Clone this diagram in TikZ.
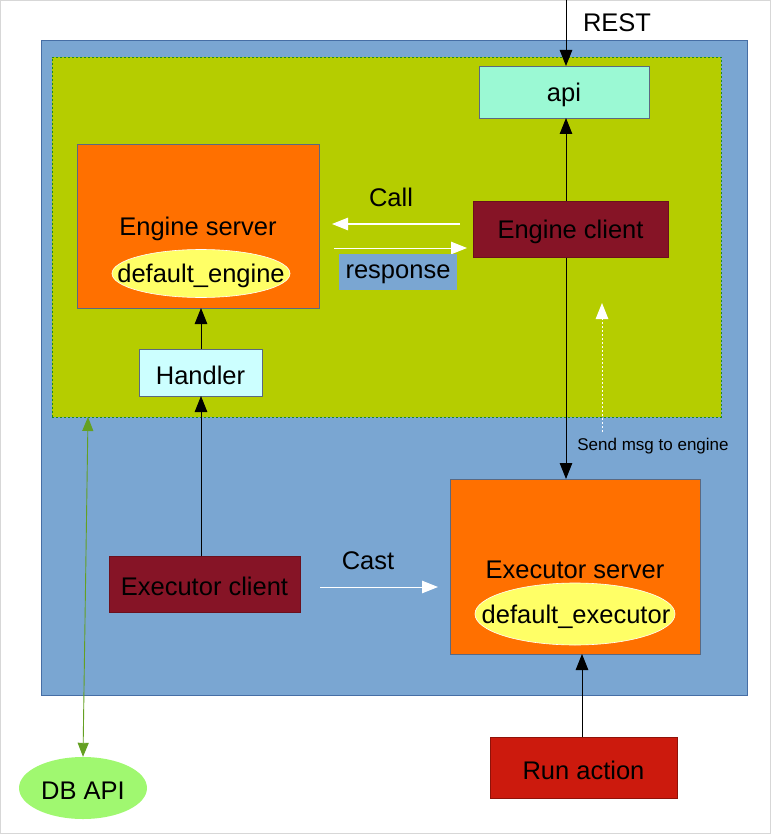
\documentclass[tikz,border=0pt]{standalone}
\usepackage{fontspec}
\setmainfont{Liberation Sans}
\usetikzlibrary{arrows.meta,shapes.geometric}
\definecolor{outerblue}{RGB}{122,166,210}
\definecolor{outerborder}{RGB}{70,110,165}
\definecolor{limegreen}{RGB}{181,205,0}
\definecolor{dashgreen}{RGB}{30,140,30}
\definecolor{mint}{RGB}{155,249,212}
\definecolor{orangebox}{RGB}{255,112,0}
\definecolor{darkred}{RGB}{134,20,38}
\definecolor{handlercyan}{RGB}{204,255,255}
\definecolor{yellowell}{RGB}{255,255,102}
\definecolor{runred}{RGB}{204,26,13}
\definecolor{dbgreen}{RGB}{160,248,112}
\definecolor{dbline}{RGB}{100,160,34}
\definecolor{boxborder}{RGB}{90,105,130}
\definecolor{frame}{RGB}{215,215,215}
\tikzset{
  txt/.style={font=\fontsize{25.5}{28}\selectfont, text=black, yshift=-2.5pt},
  smalltxt/.style={font=\fontsize{17}{19}\selectfont, text=black, yshift=-2pt},
  boxnode/.style={draw=boxborder, line width=0.8pt, inner sep=0pt},
  ell/.style={ellipse, fill=yellowell, draw=white, line width=0.6pt, inner sep=0pt},
  blackarrow/.style={draw=black, line width=0.9pt, -{Triangle[length=16pt,width=12.5pt]}},
  whitearrow/.style={draw=white, line width=1pt, -{Triangle[length=16pt,width=12.5pt]}},
}
\begin{document}
\begin{tikzpicture}[x=1pt,y=-1pt]
\useasboundingbox (0,0) rectangle (771,834);
\draw[frame, line width=1pt] (0.5,0.5) rectangle (770.5,833.5);
% containers
\node[fill=outerblue, draw=outerborder, line width=0.8pt, minimum width=706pt, minimum height=655pt, inner sep=0pt] (outer) at (394,367.5) {};
\node[fill=limegreen, draw=dashgreen, dashed, dash pattern=on 2pt off 2pt, line width=0.8pt, minimum width=669pt, minimum height=360pt, inner sep=0pt] (inner) at (386.5,237) {};
% nodes
\node[boxnode, fill=mint, minimum width=170pt, minimum height=52pt] (api) at (564,92) {};
\node[txt] (apilbl) at (api) {api};
\node[boxnode, fill=orangebox, minimum width=242pt, minimum height=164pt] (engsrv) at (198,226) {};
\node[txt] (engsrvlbl) at (198,226) {Engine server};
\node[ell, minimum width=178pt, minimum height=48pt] (defeng) at (201,273.5) {};
\node[txt] (defenglbl) at (201,273.5) {default\_engine};
\node[boxnode, fill=handlercyan, minimum width=123pt, minimum height=47pt] (handler) at (200.5,372.5) {};
\node[txt] (handlerlbl) at (handler) {Handler};
\node[boxnode, fill=orangebox, minimum width=250pt, minimum height=175pt] (execsrv) at (575,566.5) {};
\node[txt] (execsrvlbl) at (575,567) {Executor server};
\node[ell, minimum width=200pt, minimum height=62pt] (defexec) at (575,614) {};
\node[txt] (defexeclbl) at (576,614) {default\_executor};
\node[boxnode, fill=darkred, draw=darkred!80!black, minimum width=191pt, minimum height=56pt] (execcl) at (204.5,584) {};
\node[txt] (execcllbl) at (execcl) {Executor client};
\node[boxnode, fill=runred, draw=runred!70!black, minimum width=187pt, minimum height=61pt] (runact) at (583.5,767.5) {};
\node[txt] (runactlbl) at (runact) {Run action};
\node[ellipse, fill=dbgreen, inner sep=0pt, minimum width=128pt, minimum height=62pt] (dbapi) at (83,788) {};
\node[txt] (dbapilbl) at (83,788) {DB API};
% api <-> executor server (behind engine client)
\coordinate (apib) at (566,118);
\coordinate (exect) at (566,479);
\draw[draw=black, line width=0.9pt, {Triangle[length=16pt,width=12.5pt]}-{Triangle[length=16pt,width=12.5pt]}] (apib) -- (exect);
\node[boxnode, fill=darkred, draw=darkred!80!black, minimum width=195pt, minimum height=56pt] (engcl) at (570.5,229) {};
\node[txt] (engcllbl) at (engcl) {Engine client};
% REST
\coordinate (reststart) at (566,0);
\coordinate (apit) at (566,66);
\draw[blackarrow] (reststart) -- (apit);
\node[txt] (rest) at (617,20) {REST};
% Call / response
\coordinate (callstart) at (460,224);
\coordinate (callend) at (332,224);
\draw[whitearrow] (callstart) -- (callend);
\node[txt] (calllbl) at (391,195) {Call};
\coordinate (respstart) at (334,248);
\coordinate (respend) at (467,248);
\draw[whitearrow] (respstart) -- (respend);
\node[fill=outerblue, minimum width=118pt, minimum height=36pt, inner sep=0pt] (respbox) at (398,272) {};
\node[txt] (resplbl) at (respbox) {response};
% handler -> engine server
\coordinate (handtop) at (201,349);
\coordinate (engbot) at (201,308);
\draw[blackarrow] (handtop) -- (engbot);
\coordinate (execcltop) at (201,556);
\coordinate (handbot) at (201,396);
\draw[blackarrow] (execcltop) -- (handbot);
% cast
\coordinate (caststart) at (320,587);
\coordinate (castend) at (438,587);
\draw[whitearrow] (caststart) -- (castend);
\node[txt] (castlbl) at (368,558) {Cast};
% run action -> executor server
\coordinate (runtop) at (582,737);
\coordinate (execbot) at (582,654);
\draw[blackarrow] (runtop) -- (execbot);
% send msg
\coordinate (sendstart) at (602,432);
\coordinate (sendend) at (602,303);
\draw[draw=white, line width=1pt, dash pattern=on 2pt off 2pt, -{Triangle[length=16pt,width=12.5pt]}] (sendstart) -- (sendend);
\node[smalltxt] (sendlbl) at (653,444) {Send msg to engine};
% DB API line
\coordinate (dbtop) at (88,417);
\draw[draw=dbline, line width=0.9pt, {Triangle[length=14pt,width=11pt]}-{Triangle[length=14pt,width=11pt]}] (dbtop) -- (dbapi.north);
\end{tikzpicture}
\end{document}
